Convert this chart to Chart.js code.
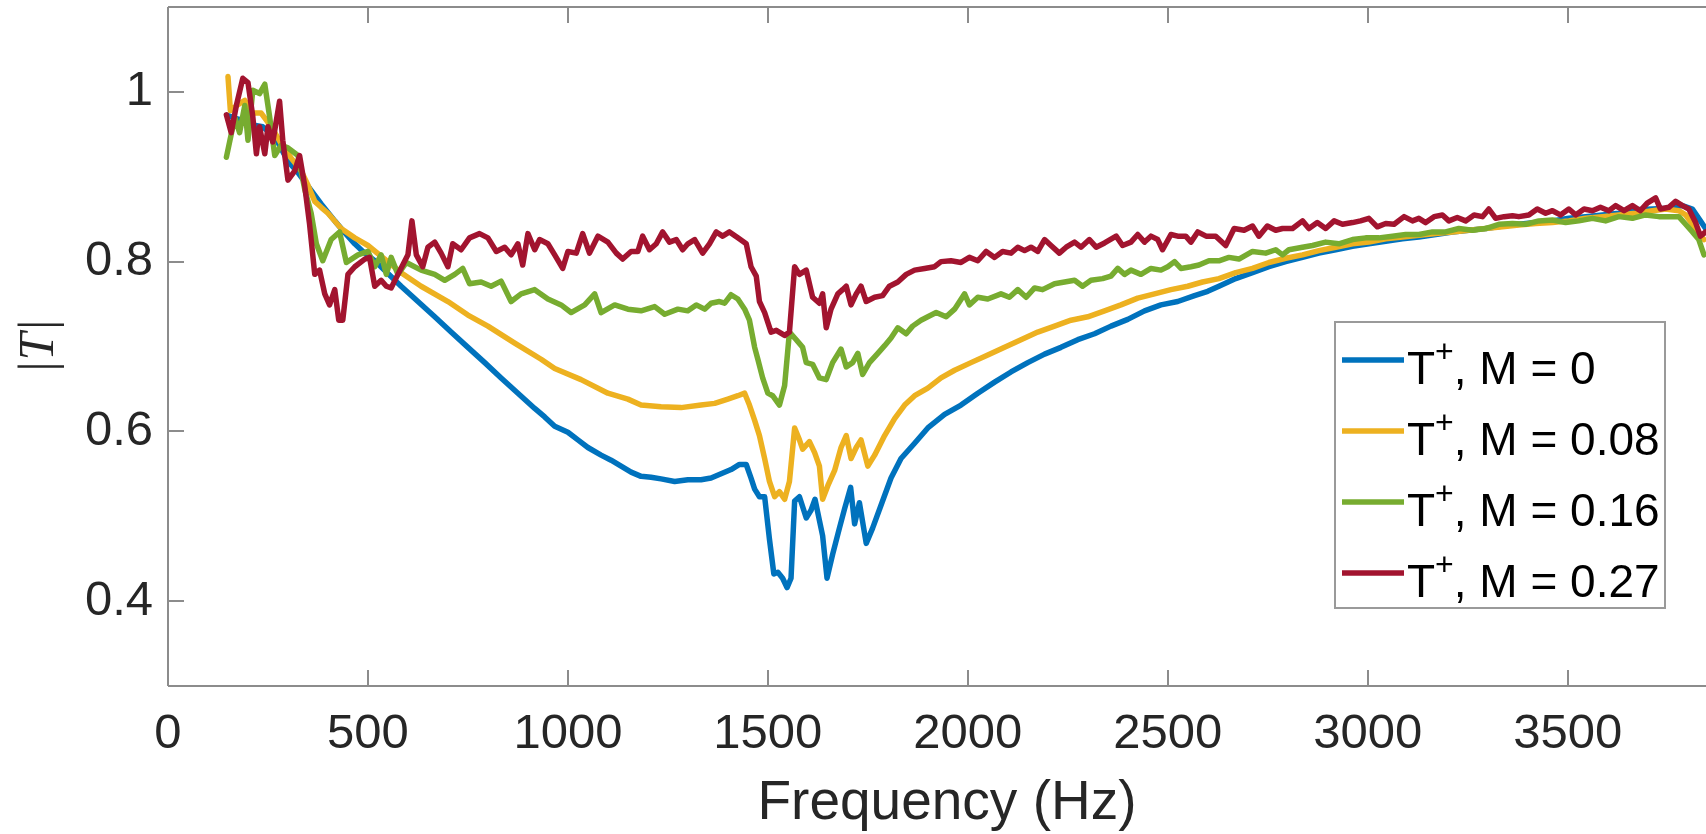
<!DOCTYPE html>
<html>
<head>
<meta charset="utf-8">
<script src="https://cdn.jsdelivr.net/npm/chart.js@4.4.1/dist/chart.umd.min.js"></script>
<style>
  html, body { margin: 0; padding: 0; background: #ffffff; }
  #wrap { width: 1706px; height: 834px; position: relative; }
</style>
</head>
<body>
<div id="wrap"><canvas id="c" width="1706" height="834"></canvas></div>
<script>
// ---------------- data ----------------
const machLabels = ['0', '0.08', '0.16', '0.27'];
const seriesColors = ['#0072BD', '#EDB120', '#77AC30', '#A2142F'];
const xTickValues = [0, 500, 1000, 1500, 2000, 2500, 3000, 3500];
const yTickValues = [0.4, 0.6, 0.8, 1.0];
const xAxisTitle = 'Frequency (Hz)';
const yAxisTitle = '|T|';

const freqM0 = [150,175,200,237,270,300,325,350,383,417,442,467,492,517,550,583,625,667,708,750,792,833,875,917,942,967,1000,1025,1050,1083,1108,1133,1158,1183,1208,1233,1267,1300,1333,1358,1383,1408,1429,1446,1458,1467,1479,1492,1504,1515,1525,1537,1548,1558,1567,1579,1596,1608,1618,1629,1637,1648,1662,1679,1692,1707,1717,1729,1746,1762,1783,1808,1833,1867,1900,1942,1983,2025,2067,2108,2150,2192,2233,2275,2317,2358,2400,2442,2483,2525,2567,2600,2628,2670,2712,2753,2795,2837,2878,2920,2962,3003,3045,3087,3128,3170,3212,3253,3295,3337,3378,3420,3462,3503,3545,3587,3628,3670,3712,3753,3787,3812,3832,3845];
const valM0 = [0.972,0.968,0.962,0.959,0.945,0.918,0.905,0.889,0.868,0.848,0.834,0.821,0.810,0.801,0.786,0.771,0.753,0.735,0.717,0.699,0.681,0.663,0.645,0.627,0.617,0.606,0.599,0.590,0.581,0.572,0.566,0.559,0.552,0.547,0.546,0.544,0.541,0.543,0.543,0.545,0.550,0.555,0.561,0.561,0.545,0.532,0.523,0.523,0.473,0.432,0.434,0.427,0.416,0.427,0.518,0.523,0.498,0.507,0.520,0.495,0.477,0.427,0.455,0.486,0.509,0.534,0.491,0.516,0.468,0.486,0.513,0.545,0.568,0.586,0.604,0.620,0.631,0.645,0.658,0.670,0.681,0.691,0.699,0.708,0.715,0.724,0.732,0.742,0.749,0.753,0.760,0.765,0.771,0.780,0.787,0.794,0.800,0.805,0.810,0.814,0.818,0.821,0.824,0.827,0.829,0.832,0.835,0.837,0.839,0.842,0.844,0.846,0.848,0.851,0.853,0.855,0.857,0.861,0.862,0.863,0.866,0.862,0.848,0.839];

const freqM008 = [150,156,175,192,212,233,250,267,283,308,333,350,367,383,400,433,467,500,542,583,633,700,750,800,867,933,967,1033,1100,1150,1183,1233,1283,1333,1367,1400,1425,1442,1454,1467,1479,1492,1504,1517,1529,1542,1554,1567,1579,1587,1604,1617,1629,1637,1650,1667,1683,1696,1708,1721,1733,1750,1767,1792,1817,1842,1867,1900,1933,1967,2008,2050,2092,2133,2175,2217,2258,2300,2342,2383,2425,2467,2508,2550,2587,2628,2670,2712,2753,2795,2837,2878,2920,2962,3003,3045,3087,3128,3170,3212,3253,3295,3337,3378,3420,3462,3503,3545,3587,3628,3670,3712,3745,3778,3795,3812,3828,3841];
const valM008 = [1.018,0.978,0.985,0.990,0.975,0.975,0.964,0.952,0.939,0.922,0.907,0.890,0.871,0.864,0.857,0.839,0.828,0.819,0.803,0.787,0.771,0.753,0.737,0.724,0.704,0.685,0.674,0.661,0.645,0.638,0.631,0.629,0.628,0.631,0.633,0.638,0.642,0.645,0.631,0.613,0.595,0.568,0.541,0.523,0.529,0.520,0.541,0.604,0.590,0.579,0.588,0.575,0.559,0.520,0.536,0.554,0.581,0.595,0.568,0.581,0.590,0.559,0.572,0.595,0.615,0.631,0.642,0.651,0.663,0.672,0.681,0.690,0.699,0.708,0.717,0.724,0.731,0.735,0.742,0.749,0.757,0.762,0.767,0.771,0.776,0.780,0.787,0.792,0.799,0.804,0.808,0.813,0.817,0.821,0.823,0.827,0.829,0.831,0.833,0.835,0.837,0.839,0.841,0.843,0.845,0.846,0.848,0.851,0.853,0.855,0.857,0.860,0.862,0.860,0.855,0.844,0.832,0.826];

const freqM016 = [146,167,179,192,200,212,229,242,254,267,283,300,325,342,358,371,387,408,429,446,475,500,517,533,546,558,575,596,633,667,692,717,737,754,783,808,833,858,883,917,950,983,1008,1042,1067,1083,1117,1150,1183,1217,1242,1275,1300,1321,1342,1358,1379,1392,1408,1425,1442,1454,1467,1475,1487,1500,1512,1529,1542,1554,1571,1587,1596,1612,1629,1646,1662,1683,1696,1712,1725,1737,1754,1775,1792,1808,1825,1846,1862,1883,1900,1921,1946,1967,1992,2004,2025,2050,2083,2104,2125,2146,2167,2187,2217,2242,2267,2287,2308,2337,2358,2375,2392,2408,2433,2458,2483,2500,2517,2533,2558,2578,2603,2628,2653,2678,2712,2745,2770,2787,2803,2837,2862,2895,2928,2962,2995,3028,3062,3095,3128,3162,3195,3228,3262,3295,3328,3362,3395,3428,3462,3495,3528,3562,3595,3628,3662,3695,3728,3762,3778,3795,3812,3828,3841];
const valM016 = [0.923,0.970,0.952,0.984,0.943,1.002,0.998,1.009,0.971,0.925,0.937,0.934,0.925,0.885,0.857,0.821,0.801,0.826,0.835,0.799,0.808,0.812,0.794,0.808,0.785,0.805,0.785,0.799,0.790,0.785,0.778,0.785,0.792,0.774,0.776,0.771,0.777,0.753,0.762,0.767,0.756,0.749,0.740,0.749,0.762,0.740,0.749,0.744,0.742,0.747,0.738,0.744,0.742,0.749,0.744,0.751,0.753,0.751,0.761,0.756,0.744,0.731,0.699,0.685,0.663,0.645,0.642,0.631,0.654,0.717,0.708,0.699,0.681,0.679,0.663,0.661,0.681,0.697,0.676,0.681,0.692,0.667,0.681,0.692,0.701,0.710,0.722,0.715,0.724,0.731,0.735,0.740,0.735,0.744,0.762,0.749,0.758,0.756,0.762,0.758,0.767,0.758,0.769,0.767,0.774,0.776,0.778,0.771,0.778,0.780,0.783,0.792,0.785,0.790,0.785,0.792,0.790,0.794,0.800,0.792,0.794,0.796,0.801,0.801,0.805,0.803,0.812,0.810,0.814,0.808,0.814,0.817,0.819,0.823,0.821,0.826,0.828,0.828,0.830,0.832,0.832,0.835,0.835,0.839,0.837,0.839,0.844,0.845,0.844,0.848,0.849,0.846,0.848,0.851,0.848,0.853,0.851,0.855,0.853,0.853,0.853,0.844,0.835,0.826,0.808];

const freqM027 = [146,158,171,187,200,212,221,229,242,250,262,279,287,300,317,329,342,354,367,379,392,404,417,427,437,450,467,492,504,517,533,546,558,575,600,610,621,637,650,667,683,700,712,733,754,779,800,821,842,858,875,887,900,917,929,950,967,987,1000,1021,1037,1054,1075,1100,1121,1137,1158,1175,1187,1204,1221,1237,1254,1271,1287,1300,1317,1337,1354,1371,1387,1404,1425,1446,1458,1471,1479,1492,1508,1521,1542,1554,1567,1579,1596,1612,1629,1637,1646,1658,1675,1687,1696,1708,1721,1733,1746,1767,1787,1804,1825,1846,1867,1892,1917,1933,1958,1983,2004,2025,2046,2067,2087,2108,2125,2142,2158,2175,2192,2208,2229,2246,2267,2283,2304,2321,2342,2371,2387,2408,2425,2442,2458,2475,2487,2508,2525,2545,2558,2575,2596,2620,2645,2666,2691,2712,2728,2749,2770,2787,2812,2837,2853,2874,2895,2916,2937,2962,2982,3003,3024,3045,3066,3091,3112,3128,3145,3166,3187,3203,3224,3245,3266,3287,3303,3320,3341,3362,3378,3403,3424,3445,3462,3482,3503,3520,3541,3562,3582,3603,3620,3641,3662,3682,3699,3720,3732,3753,3770,3787,3803,3820,3832,3845];
const valM027 = [0.973,0.952,0.984,1.016,1.011,0.971,0.927,0.959,0.927,0.959,0.941,0.989,0.943,0.896,0.907,0.925,0.889,0.844,0.785,0.790,0.762,0.749,0.767,0.731,0.731,0.785,0.794,0.803,0.805,0.771,0.778,0.771,0.769,0.785,0.808,0.848,0.808,0.794,0.817,0.823,0.810,0.794,0.821,0.814,0.828,0.833,0.828,0.812,0.817,0.808,0.821,0.796,0.833,0.814,0.826,0.821,0.808,0.792,0.812,0.810,0.833,0.810,0.830,0.823,0.810,0.803,0.812,0.812,0.830,0.814,0.821,0.835,0.823,0.826,0.814,0.821,0.826,0.810,0.821,0.835,0.830,0.835,0.828,0.821,0.794,0.783,0.753,0.740,0.717,0.719,0.713,0.717,0.794,0.785,0.790,0.758,0.751,0.762,0.722,0.744,0.762,0.767,0.771,0.749,0.762,0.771,0.753,0.758,0.760,0.771,0.776,0.785,0.790,0.792,0.794,0.800,0.801,0.799,0.805,0.801,0.812,0.805,0.812,0.810,0.817,0.813,0.817,0.812,0.826,0.819,0.810,0.817,0.823,0.817,0.826,0.817,0.822,0.830,0.819,0.823,0.832,0.823,0.830,0.826,0.814,0.832,0.830,0.830,0.823,0.835,0.830,0.830,0.819,0.839,0.837,0.842,0.830,0.842,0.837,0.839,0.839,0.848,0.839,0.846,0.839,0.848,0.844,0.846,0.848,0.851,0.841,0.845,0.844,0.853,0.848,0.851,0.846,0.853,0.855,0.848,0.852,0.848,0.855,0.853,0.862,0.851,0.853,0.854,0.853,0.855,0.862,0.857,0.860,0.855,0.862,0.855,0.862,0.860,0.864,0.860,0.866,0.860,0.866,0.860,0.869,0.875,0.862,0.864,0.871,0.866,0.862,0.846,0.830,0.835];

// ---------------- chart ----------------
const FONT = "'Liberation Sans', Arial, Helvetica, sans-serif";
const AXIS_COLOR = '#8c8c8c';
const TEXT_COLOR = '#262626';
const TICK_LEN = 16;

const freqs = [freqM0, freqM008, freqM016, freqM027];
const vals = [valM0, valM008, valM016, valM027];

const datasets = machLabels.map((m, i) => ({
  label: 'T\u207A, M = ' + m,
  data: freqs[i].map((f, k) => ({ x: f, y: vals[i][k] })),
  borderColor: seriesColors[i],
  backgroundColor: seriesColors[i],
  borderWidth: 5.5,
  borderJoinStyle: 'round',
  borderCapStyle: 'round',
  pointRadius: 0,
  tension: 0,
  fill: false,
  order: machLabels.length - 1 - i,
  clip: { left: 0, top: 0, right: 12, bottom: 0 }
}));

const matlabAxes = {
  id: 'matlabAxes',
  beforeDatasetsDraw(chart) {
    const { ctx, chartArea: a, scales: { x, y } } = chart;
    const W = chart.width;
    ctx.save();
    ctx.strokeStyle = AXIS_COLOR;
    ctx.lineWidth = 2;
    ctx.beginPath();
    ctx.moveTo(a.left, a.top); ctx.lineTo(W, a.top);
    ctx.moveTo(a.left, a.bottom); ctx.lineTo(W, a.bottom);
    ctx.moveTo(a.left, a.top); ctx.lineTo(a.left, a.bottom);
    xTickValues.forEach(v => {
      const px = Math.round(x.getPixelForValue(v));
      ctx.moveTo(px, a.bottom); ctx.lineTo(px, a.bottom - TICK_LEN);
      ctx.moveTo(px, a.top); ctx.lineTo(px, a.top + TICK_LEN);
    });
    yTickValues.forEach(v => {
      const py = Math.round(y.getPixelForValue(v));
      ctx.moveTo(a.left, py); ctx.lineTo(a.left + TICK_LEN, py);
    });
    ctx.stroke();
    // x-axis title (MATLAB places it slightly right of the visible centre)
    ctx.fillStyle = TEXT_COLOR;
    ctx.font = '55px ' + FONT;
    ctx.textAlign = 'center';
    ctx.textBaseline = 'middle';
    ctx.fillText(xAxisTitle, 947, 804);
    ctx.restore();
  }
};

const boxLegend = {
  id: 'boxLegend',
  afterDraw(chart) {
    const { ctx } = chart;
    const bx = 1335, by = 322, bw = 330, bh = 286;
    ctx.save();
    ctx.fillStyle = '#ffffff';
    ctx.fillRect(bx, by, bw, bh);
    ctx.strokeStyle = '#9a9a9a';
    ctx.lineWidth = 2;
    ctx.strokeRect(bx, by, bw, bh);
    chart.data.datasets.forEach((ds, i) => {
      const ly = 360 + i * 71;
      ctx.strokeStyle = ds.borderColor;
      ctx.lineWidth = 5.5;
      ctx.beginPath();
      ctx.moveTo(1342, ly); ctx.lineTo(1404, ly);
      ctx.stroke();
      ctx.fillStyle = '#000000';
      ctx.textBaseline = 'alphabetic';
      ctx.textAlign = 'left';
      let tx = 1407;
      ctx.font = '46px ' + FONT;
      ctx.fillText('T', tx, ly + 24);
      tx += ctx.measureText('T').width;
      ctx.font = '32px ' + FONT;
      ctx.fillText('+', tx, ly + 2);
      tx += ctx.measureText('+').width;
      ctx.font = '46px ' + FONT;
      ctx.fillText(', M = ' + machLabels[i], tx, ly + 24);
    });
    ctx.restore();
  }
};

new Chart(document.getElementById('c'), {
  type: 'line',
  data: { datasets },
  plugins: [matlabAxes, boxLegend],
  options: {
    responsive: false,
    animation: false,
    events: [],
    layout: { padding: { top: 7, right: 0, bottom: 0, left: 0 } },
    plugins: { legend: { display: false }, tooltip: { enabled: false }, title: { display: false } },
    scales: {
      x: {
        type: 'linear',
        min: 0,
        max: 3846,
        grid: { display: false, drawTicks: false },
        border: { display: false },
        afterBuildTicks(scale) { scale.ticks = xTickValues.map(v => ({ value: v })); },
        afterFit(scale) { scale.height = 148; scale.paddingLeft = 0; scale.paddingRight = 0; },
        ticks: {
          padding: 19,
          maxRotation: 0,
          autoSkip: false,
          color: TEXT_COLOR,
          font: { family: FONT, size: 49 },
          callback: v => String(v)
        },
        title: { display: false }
      },
      y: {
        type: 'linear',
        min: 0.3,
        max: 1.1,
        grid: { display: false, drawTicks: false },
        border: { display: false },
        afterBuildTicks(scale) { scale.ticks = yTickValues.map(v => ({ value: v })); },
        afterFit(scale) { scale.width = 168; scale.paddingTop = 0; scale.paddingBottom = 0; },
        ticks: {
          padding: 15,
          color: TEXT_COLOR,
          font: { family: FONT, size: 49 },
          callback: v => (v === 1 ? '1' : String(Math.round(v * 10) / 10))
        },
        title: {
          display: true,
          text: yAxisTitle,
          color: TEXT_COLOR,
          font: { family: "'Liberation Serif', 'Times New Roman', serif", size: 50, style: 'italic', lineHeight: 1.2 },
          padding: { top: 10, bottom: 0 }
        }
      }
    }
  }
});
</script>
</body>
</html>
